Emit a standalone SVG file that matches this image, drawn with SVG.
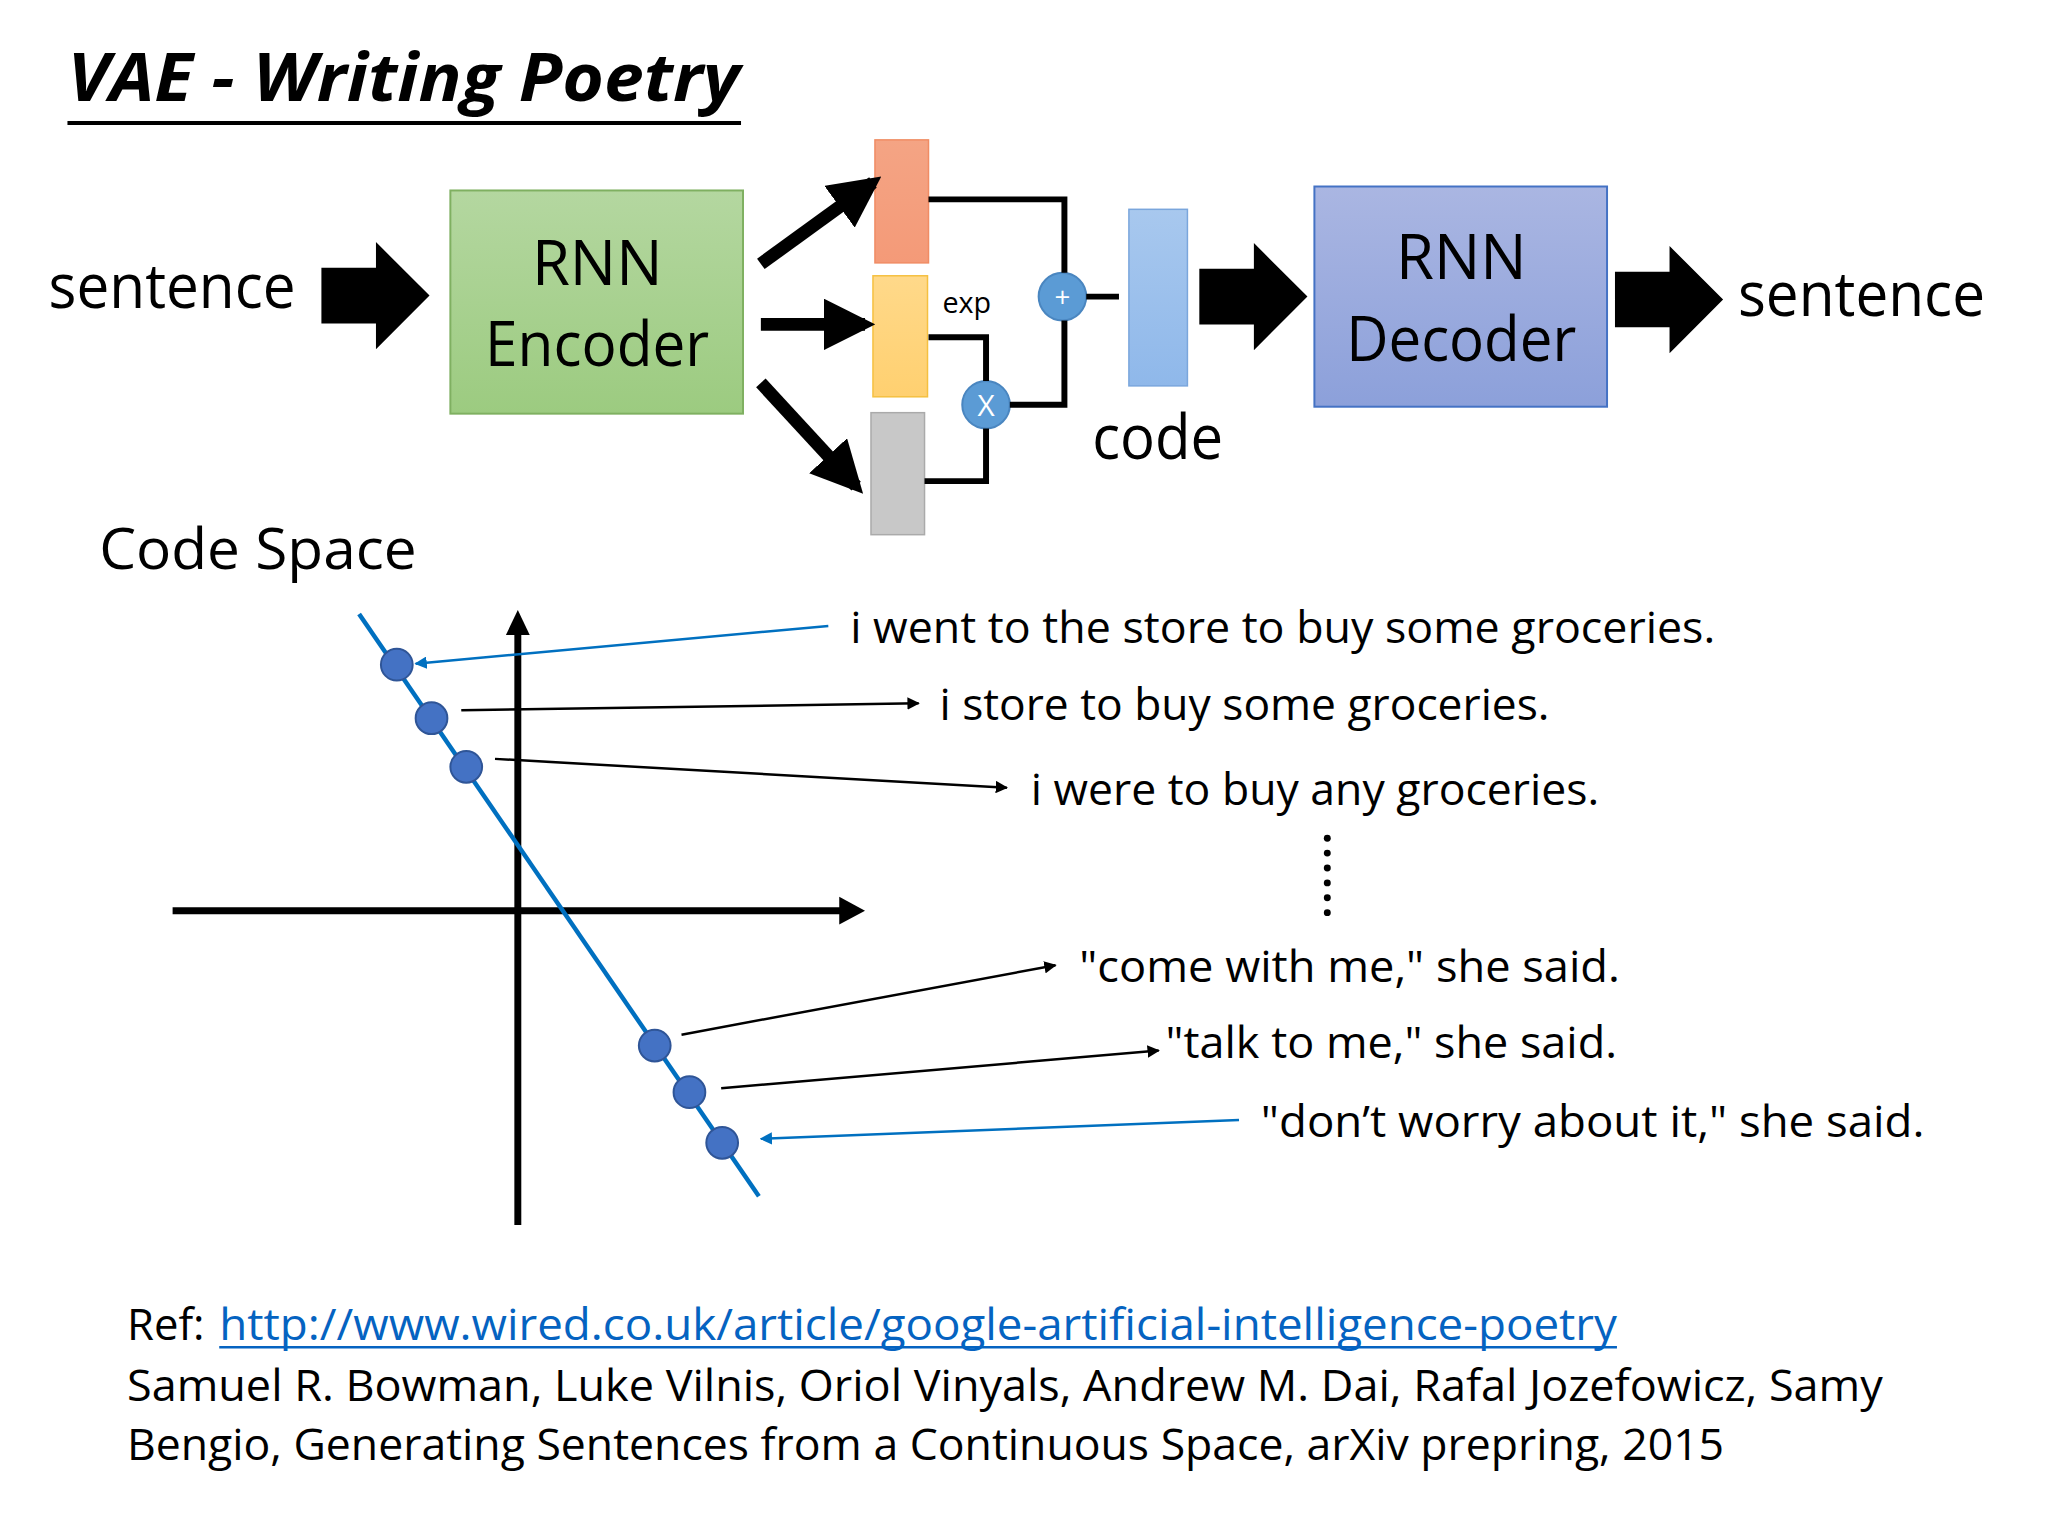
<svg xmlns="http://www.w3.org/2000/svg" width="2048" height="1536" viewBox="0 0 2048 1536">
<defs>
<style>
text{font-family:"Open Sans","Noto Sans",sans-serif;fill:#000}
.big{font-size:62px}
.mid{font-size:44px}
.ln{fill:none;stroke:#000;stroke-width:6}
.thin{fill:none;stroke:#000;stroke-width:2.5}
.bl{fill:none;stroke:#0070c0;stroke-width:2.5}
.dot{fill:#4472c4;stroke:#2f5597;stroke-width:2}
</style>
<linearGradient id="gG" x1="0" y1="0" x2="0" y2="1"><stop offset="0" stop-color="#b4d7a0"/><stop offset="1" stop-color="#9ccb80"/></linearGradient>
<linearGradient id="gB" x1="0" y1="0" x2="0" y2="1"><stop offset="0" stop-color="#aab6e2"/><stop offset="1" stop-color="#8ca0da"/></linearGradient>
<linearGradient id="gO" x1="0" y1="0" x2="0" y2="1"><stop offset="0" stop-color="#f4a484"/><stop offset="1" stop-color="#f49a78"/></linearGradient>
<linearGradient id="gY" x1="0" y1="0" x2="0" y2="1"><stop offset="0" stop-color="#ffd98a"/><stop offset="1" stop-color="#ffd070"/></linearGradient>
<linearGradient id="gC" x1="0" y1="0" x2="0" y2="1"><stop offset="0" stop-color="#a8c8ee"/><stop offset="1" stop-color="#8fb8ea"/></linearGradient>
<marker id="ak" viewBox="0 0 10 10" refX="9" refY="5" markerWidth="5" markerHeight="5" orient="auto"><path d="M0,0L10,5L0,10z" fill="#000"/></marker>
<marker id="ab" viewBox="0 0 10 10" refX="9" refY="5" markerWidth="5" markerHeight="5" orient="auto"><path d="M0,0L10,5L0,10z" fill="#0070c0"/></marker>
<marker id="aw" viewBox="0 0 10 10" refX="8" refY="5" markerWidth="4" markerHeight="4" orient="auto"><path d="M0,0L10,5L0,10z" fill="#000"/></marker>
<path id="blk" d="M0,26L55,26L55,0L109,54L55,108L55,82L0,82z" fill="#000"/>
</defs>
<g transform="scale(0.992)">
<g id="title">
<text x="68" y="102" font-size="66" font-weight="bold" font-style="italic" textLength="678" lengthAdjust="spacingAndGlyphs">VAE - Writing Poetry</text>
<line x1="68" y1="124" x2="747" y2="124" stroke="#000" stroke-width="4"/>
</g>

<g id="sentence-in"><text class="big" x="49" y="310" textLength="249" lengthAdjust="spacingAndGlyphs">sentence</text></g>
<g id="encoder">
<rect x="454" y="192" width="295" height="225" fill="url(#gG)" stroke="#7fb061" stroke-width="2"/>
<text class="big" x="602" y="287" text-anchor="middle">RNN</text>
<text class="big" x="602" y="369" text-anchor="middle" textLength="226" lengthAdjust="spacingAndGlyphs">Encoder</text>
</g>
<g id="mu"><rect x="882" y="141" width="54" height="124" fill="url(#gO)" stroke="#f08c64" stroke-width="1.5"/></g>
<g id="sigma"><rect x="880" y="278" width="55" height="122" fill="url(#gY)" stroke="#f5c040" stroke-width="1.5"/>
<text x="950" y="316" font-size="29" fill="#333">exp</text></g>
<g id="noise"><rect x="878" y="416" width="54" height="123" fill="#c8c8c8" stroke="#aaa" stroke-width="1.5"/></g>
<g id="code"><rect x="1138" y="211" width="59" height="178" fill="url(#gC)" stroke="#7aa6dc" stroke-width="1.5"/>
<text class="big" x="1101" y="463" textLength="132" lengthAdjust="spacingAndGlyphs">code</text></g>
<g id="decoder">
<rect x="1325" y="188" width="295" height="222" fill="url(#gB)" stroke="#4472c4" stroke-width="2"/>
<text class="big" x="1473" y="281" text-anchor="middle">RNN</text>
<text class="big" x="1473" y="364" text-anchor="middle" textLength="232" lengthAdjust="spacingAndGlyphs">Decoder</text>
</g>
<g id="sentence-out"><text class="big" x="1752" y="319" textLength="249" lengthAdjust="spacingAndGlyphs">sentence</text></g>
<g id="plus"><circle cx="1071" cy="299" r="24" fill="#5b9bd5" stroke="#4a86c0" stroke-width="2"/><text x="1071" y="309" font-size="28" text-anchor="middle" style="fill:#fff">+</text></g>
<g id="times"><circle cx="994" cy="408" r="24" fill="#5b9bd5" stroke="#4a86c0" stroke-width="2"/><text x="994" y="419" font-size="30" text-anchor="middle" style="fill:#fff">X</text></g>

<g id="connectors">
<use href="#blk" x="324" y="244"/>
<use href="#blk" x="1209" y="245"/>
<use href="#blk" x="1628" y="248"/>
<line x1="767" y1="266" x2="880" y2="184" stroke="#000" stroke-width="13" marker-end="url(#aw)"/>
<line x1="767" y1="327" x2="872" y2="327" stroke="#000" stroke-width="13" marker-end="url(#aw)"/>
<line x1="767" y1="386" x2="863" y2="490" stroke="#000" stroke-width="13" marker-end="url(#aw)"/>
<polyline class="ln" points="936,201 1073,201 1073,275"/>
<polyline class="ln" points="1073,323 1073,408 1018,408"/>
<polyline class="ln" points="936,340 994,340 994,384"/>
<polyline class="ln" points="932,485 994,485 994,432"/>
<line class="ln" x1="1095" y1="299" x2="1128" y2="299"/>

<line x1="174" y1="918" x2="850" y2="918" stroke="#000" stroke-width="7"/>
<path d="M872,918L846,904L846,932z"/>
<line x1="522" y1="1235" x2="522" y2="632" stroke="#000" stroke-width="7"/>
<path d="M522,615L510,640L534,640z"/>
<line x1="362" y1="619" x2="765" y2="1206" stroke="#0070c0" stroke-width="4.5"/>
<line class="bl" x1="835" y1="631" x2="419" y2="669" marker-end="url(#ab)"/>
<line class="thin" x1="465" y1="716" x2="926" y2="709" marker-end="url(#ak)"/>
<line class="thin" x1="499" y1="765" x2="1015" y2="794" marker-end="url(#ak)"/>
<line class="thin" x1="687" y1="1043" x2="1064" y2="973" marker-end="url(#ak)"/>
<line class="thin" x1="727" y1="1097" x2="1168" y2="1059" marker-end="url(#ak)"/>
<line class="bl" x1="1249" y1="1129" x2="767" y2="1148" marker-end="url(#ab)"/>
</g>

<g id="points">
<circle class="dot" cx="400" cy="670" r="16"/>
<circle class="dot" cx="435" cy="724" r="16"/>
<circle class="dot" cx="470" cy="773" r="16"/>
<circle class="dot" cx="660" cy="1054" r="16"/>
<circle class="dot" cx="695" cy="1101" r="16"/>
<circle class="dot" cx="728" cy="1152" r="16"/>
</g>

<g id="labels">
<text x="100" y="574" font-size="58" textLength="320" lengthAdjust="spacingAndGlyphs">Code Space</text>
<text class="mid" x="857" y="648" textLength="872" lengthAdjust="spacingAndGlyphs">i went to the store to buy some groceries.</text>
<text class="mid" x="947" y="726" textLength="615" lengthAdjust="spacingAndGlyphs">i store to buy some groceries.</text>
<text class="mid" x="1039" y="811" textLength="573" lengthAdjust="spacingAndGlyphs">i were to buy any groceries.</text>
<g fill="#000"><circle cx="1338" cy="845" r="3.5"/><circle cx="1338" cy="860" r="3.5"/><circle cx="1338" cy="875" r="3.5"/><circle cx="1338" cy="890" r="3.5"/><circle cx="1338" cy="905" r="3.5"/><circle cx="1338" cy="920" r="3.5"/></g>
<text class="mid" x="1088" y="990" textLength="545" lengthAdjust="spacingAndGlyphs">"come with me," she said.</text>
<text class="mid" x="1175" y="1067" textLength="455" lengthAdjust="spacingAndGlyphs">"talk to me," she said.</text>
<text class="mid" x="1271" y="1146" textLength="669" lengthAdjust="spacingAndGlyphs">"don’t worry about it," she said.</text>
</g>

<g id="footer">
<text class="mid" x="128" y="1351">Ref:</text>
<text class="mid" x="221" y="1351" textLength="1409" lengthAdjust="spacingAndGlyphs" style="fill:#0563c1">http://www.wired.co.uk/article/google-artificial-intelligence-poetry</text>
<line x1="221" y1="1358" x2="1630" y2="1358" stroke="#0563c1" stroke-width="2.5"/>
<text class="mid" x="128" y="1412" textLength="1770" lengthAdjust="spacingAndGlyphs">Samuel R. Bowman, Luke Vilnis, Oriol Vinyals, Andrew M. Dai, Rafal Jozefowicz, Samy</text>
<text class="mid" x="128" y="1472" textLength="1610" lengthAdjust="spacingAndGlyphs">Bengio, Generating Sentences from a Continuous Space, arXiv prepring, 2015</text>
</g>
</g>
</svg>
